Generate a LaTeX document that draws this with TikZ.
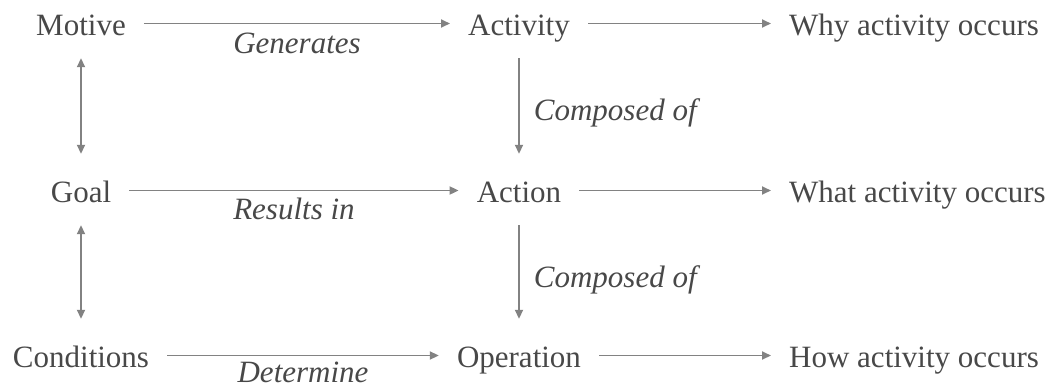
\documentclass[tikz,border=0pt]{standalone}
\usepackage{fontspec}
\setmainfont{Liberation Serif}
\usetikzlibrary{arrows.meta}
\definecolor{txt}{HTML}{484848}
\definecolor{lne}{HTML}{828282}
\begin{document}
\begin{tikzpicture}[x=1pt,y=-1pt,
  lbl/.style={font=\fontsize{31}{36}\selectfont, text=txt, text height=23pt, text depth=0pt, inner xsep=18pt, inner ysep=0pt},
  edgelbl/.style={font=\fontsize{31}{36}\selectfont\itshape, text=txt, inner sep=0pt},
  conn/.style={draw=lne, line width=1.8pt, -{Triangle[length=9pt,width=8pt]}},
  dconn/.style={draw=lne, line width=1.8pt, {Triangle[length=9pt,width=8pt]}-{Triangle[length=9pt,width=8pt]}, shorten <=23pt, shorten >=25pt},
  vconn/.style={conn, shorten <=23pt, shorten >=25pt}]
\useasboundingbox (0,0) rectangle (1052,389);
% left column
\node[lbl, anchor=base] (motive) at (81,35) {Motive};
\node[lbl, anchor=base] (goal) at (81,202) {Goal};
\node[lbl, anchor=base] (cond) at (81,367) {Conditions};
% middle column
\node[lbl, anchor=base] (activity) at (519,35) {Activity};
\node[lbl, anchor=base] (action) at (519,202) {Action};
\node[lbl, anchor=base] (operation) at (519,367) {Operation};
% right column
\node[lbl, anchor=base west, xshift=-18pt] (why) at (789,35) {Why activity occurs};
\node[lbl, anchor=base west, xshift=-18pt] (what) at (789,202) {What activity occurs};
\node[lbl, anchor=base west, xshift=-18pt] (how) at (789,367) {How activity occurs};
% horizontal connectors
\draw[conn] (motive.east) -- node[edgelbl, anchor=base, yshift=-30pt] (l1) {Generates} (activity.west);
\draw[conn] (goal.east) -- node[edgelbl, anchor=base, yshift=-29pt] (l2) {Results in} (action.west);
\draw[conn] (cond.east) -- node[edgelbl, anchor=base, yshift=-27pt] (l3) {Determine} (operation.west);
\draw[conn] (activity.east) -- (why.west);
\draw[conn] (action.east) -- (what.west);
\draw[conn] (operation.east) -- (how.west);
% vertical connectors
\draw[dconn] (motive.south) -- (goal.north);
\draw[dconn] (goal.south) -- (cond.north);
\draw[vconn] (activity.south) -- node[edgelbl, anchor=base west, xshift=14pt, yshift=-13pt] (l4) {Composed of} (action.north);
\draw[vconn] (action.south) -- node[edgelbl, anchor=base west, xshift=14pt, yshift=-14pt] (l5) {Composed of} (operation.north);
\end{tikzpicture}
\end{document}
